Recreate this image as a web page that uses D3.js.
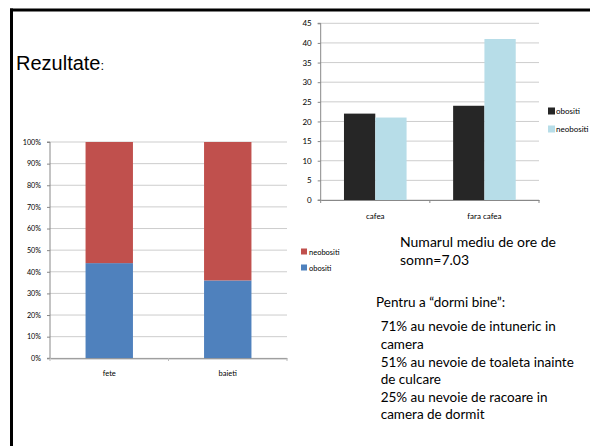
<!DOCTYPE html>
<html><head><meta charset="utf-8">
<script src="https://cdn.jsdelivr.net/npm/d3@7"></script>
<style>
html,body{margin:0;padding:0;background:#fff;}
svg{display:block;}
</style></head>
<body>
<svg id="c" width="590" height="446"></svg>
<script>
// Left chart: 100% stacked
const genderCats = ["fete", "baieti"];
const obositiPct = [44, 36];
const neobositiPct = [56, 64];
const pctTicks = [0,10,20,30,40,50,60,70,80,90,100];

// Right chart: clustered
const coffeeCats = ["cafea", "fara cafea"];
const coffeeObositi = [22, 24];
const coffeeNeobositi = [21, 41];
const countTicks = [0,5,10,15,20,25,30,35,40,45];

const fontUI = "Lato, 'Open Sans', sans-serif";
const svg = d3.select("#c");

// slide border
svg.append("line").attr("x1",11.5).attr("x2",11.5).attr("y1",8.5).attr("y2",446).attr("stroke","#000").attr("stroke-width",3);
svg.append("line").attr("x1",10).attr("x2",590).attr("y1",10).attr("y2",10).attr("stroke","#000").attr("stroke-width",3);

// title
const t = svg.append("text").attr("x",16).attr("y",70).attr("font-family","Arial, 'Liberation Sans', sans-serif").attr("fill","#000");
t.append("tspan").attr("font-size",20).text("Rezultate");
t.append("tspan").attr("font-size",13).text(":");

// ---- Left chart ----
{
  const x = d3.scaleBand().domain(genderCats).range([50,287]);
  const y = d3.scaleLinear().domain([0,100]).range([358.3,142]);
  const g = svg.append("g");
  g.selectAll("line.grid").data(pctTicks).join("line")
    .attr("x1",50).attr("x2",287).attr("y1",d=>y(d)).attr("y2",d=>y(d))
    .attr("stroke","#c0c0c0").attr("stroke-width",0.8);
  const bw = x.bandwidth()*0.4;
  const cats = genderCats.map((c,i)=>({c, o:obositiPct[i], n:neobositiPct[i]}));
  g.selectAll("rect.o").data(cats).join("rect")
    .attr("x",d=>x(d.c)+x.bandwidth()/2-bw/2).attr("width",bw)
    .attr("y",d=>y(d.o)).attr("height",d=>y(0)-y(d.o)).attr("fill","#4f81bd");
  g.selectAll("rect.n").data(cats).join("rect")
    .attr("x",d=>x(d.c)+x.bandwidth()/2-bw/2).attr("width",bw)
    .attr("y",d=>y(d.o+d.n)).attr("height",d=>y(d.o)-y(d.o+d.n)).attr("fill","#c0504d");
  const ya = g.append("g").attr("transform","translate(50,0)")
    .call(d3.axisLeft(y).tickValues(pctTicks).tickFormat(d=>d+"%").tickSize(3).tickPadding(6));
  ya.select(".domain").attr("stroke","#888").attr("d","M-3,142H0V358.3H-3");
  ya.selectAll(".tick line").attr("stroke","#888");
  ya.selectAll("text").attr("font-family",fontUI).attr("font-size",7.2).attr("fill","#000");
  const xa = g.append("g").attr("transform","translate(0,358.3)")
    .call(d3.axisBottom(x).tickSize(0).tickPadding(12));
  xa.select(".domain").attr("stroke","#888");
  xa.selectAll("text").attr("font-family",fontUI).attr("font-size",7.5).attr("fill","#000");
  g.selectAll("line.sep").data([50, 168.5, 287]).join("line")
    .attr("x1",d=>d).attr("x2",d=>d).attr("y1",358.3).attr("y2",361).attr("stroke","#bbb");
  const leg = [["neobositi","#c0504d",252],["obositi","#4f81bd",268]];
  leg.forEach(([lab,col,yy])=>{
    g.append("rect").attr("x",301).attr("y",yy-3.5).attr("width",6).attr("height",6).attr("fill",col);
    g.append("text").attr("x",309).attr("y",yy+2.5).attr("font-family",fontUI).attr("font-size",7.5).attr("fill","#000").text(lab);
  });
}

// ---- Right chart ----
{
  const x = d3.scaleBand().domain(coffeeCats).range([320.7,539]);
  const y = d3.scaleLinear().domain([0,45]).range([200,23.3]);
  const g = svg.append("g");
  g.selectAll("line.grid").data(countTicks).join("line")
    .attr("x1",320.7).attr("x2",539).attr("y1",d=>y(d)).attr("y2",d=>y(d))
    .attr("stroke","#c0c0c0").attr("stroke-width",0.8);
  const bw = 31.3;
  const cats = coffeeCats.map((c,i)=>({c, o:coffeeObositi[i], n:coffeeNeobositi[i]}));
  g.selectAll("rect.o").data(cats).join("rect")
    .attr("x",d=>x(d.c)+x.bandwidth()/2-bw).attr("width",bw)
    .attr("y",d=>y(d.o)).attr("height",d=>y(0)-y(d.o)).attr("fill","#262626");
  g.selectAll("rect.n").data(cats).join("rect")
    .attr("x",d=>x(d.c)+x.bandwidth()/2).attr("width",bw)
    .attr("y",d=>y(d.n)).attr("height",d=>y(0)-y(d.n)).attr("fill","#b7dde8");
  const ya = g.append("g").attr("transform","translate(320.7,0)")
    .call(d3.axisLeft(y).tickValues(countTicks).tickSize(3).tickPadding(6));
  ya.select(".domain").attr("stroke","#888").attr("d","M-3,23.3H0V200H-3");
  ya.selectAll(".tick line").attr("stroke","#888");
  ya.selectAll("text").attr("font-family",fontUI).attr("font-size",8).attr("fill","#000");
  const xa = g.append("g").attr("transform","translate(0,200)")
    .call(d3.axisBottom(x).tickSize(0).tickPadding(13));
  xa.select(".domain").attr("stroke","#888");
  xa.selectAll("text").attr("font-family",fontUI).attr("font-size",8).attr("fill","#000");
  g.selectAll("line.sep").data([320.7, 429.85, 539]).join("line")
    .attr("x1",d=>d).attr("x2",d=>d).attr("y1",200).attr("y2",203).attr("stroke","#888");
  const leg = [["obositi","#262626",111],["neobositi","#b7dde8",129]];
  leg.forEach(([lab,col,yy])=>{
    g.append("rect").attr("x",548).attr("y",yy-3.5).attr("width",7).attr("height",7).attr("fill",col);
    g.append("text").attr("x",556).attr("y",yy+3).attr("font-family",fontUI).attr("font-size",8).attr("fill","#000").text(lab);
  });
}

// ---- Text blocks ----
const textFont = "Lato, 'Open Sans', sans-serif";
const blocks = [
  {x:400, y:247, s:14, t:"Numarul mediu de ore de"},
  {x:400, y:265, s:14, t:"somn=7.03"},
  {x:376, y:306.5, s:13.5, t:"Pentru a \u201cdormi bine\u201d:"},
  {x:380.7, y:331, s:13.5, t:"71% au nevoie de intuneric in"},
  {x:380.7, y:348.5, s:13.5, t:"camera"},
  {x:380.7, y:366.5, s:13.5, t:"51% au nevoie de toaleta inainte"},
  {x:380.7, y:384, s:13.5, t:"de culcare"},
  {x:380.7, y:401.5, s:13.5, t:"25% au nevoie de racoare in"},
  {x:380.7, y:419, s:13.5, t:"camera de dormit"}
];
svg.selectAll("text.blk").data(blocks).join("text").attr("class","blk")
  .attr("x",d=>d.x).attr("y",d=>d.y).attr("font-size",d=>d.s)
  .attr("font-family",textFont).attr("fill","#000").text(d=>d.t);
</script>
</body></html>
